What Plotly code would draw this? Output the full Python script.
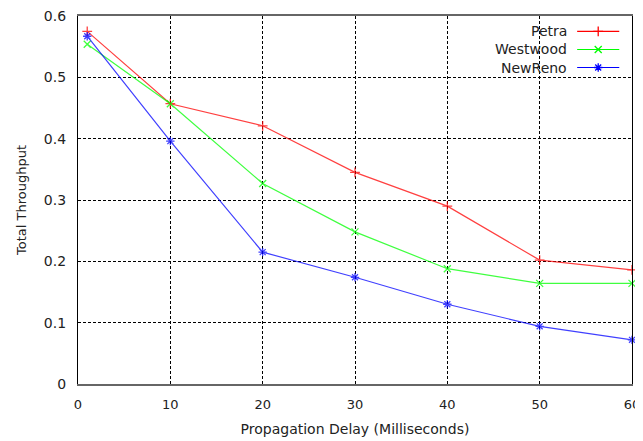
import plotly.graph_objects as go

delay = [1, 10, 20, 30, 40, 50, 60]
petra = [0.575, 0.457, 0.421, 0.345, 0.290, 0.202, 0.186]
westwood = [0.554, 0.457, 0.327, 0.248, 0.188, 0.164, 0.164]
newreno = [0.567, 0.396, 0.215, 0.174, 0.130, 0.094, 0.072]

names = ["Petra", "Westwood", "NewReno"]
colors = ["#ff0000", "#00ff00", "#0000ff"]
symbols = ["cross-thin", "x-thin", "asterisk"]
series = [petra, westwood, newreno]

fig = go.Figure()
for name, ys, c, s in zip(names, series, colors, symbols):
    fig.add_trace(go.Scatter(
        x=delay, y=ys, mode="lines+markers", name=name,
        line=dict(color=c, width=1.2), opacity=0.75,
        marker=dict(symbol=s, size=7, line=dict(color=c, width=1.3), color=c),
        showlegend=False, cliponaxis=False))

# custom legend (text left of sample, like gnuplot)
leg_y = [0.958, 0.909, 0.86]
for name, c, s, yy in zip(names, colors, symbols, leg_y):
    fig.add_shape(type="line", xref="paper", yref="paper", x0=0.901, x1=0.977, y0=yy, y1=yy,
                  line=dict(color=c, width=1.2))
    fig.add_annotation(xref="paper", yref="paper", x=0.887, y=yy, text=name, showarrow=False,
                       xanchor="right", yanchor="middle",
                       font=dict(family="DejaVu Sans", size=14, color="#222"))
fig.add_trace(go.Scatter(
    x=[0.939] * 3, y=leg_y, mode="markers", xaxis="x2", yaxis="y2",
    marker=dict(symbol=symbols, size=7, color=colors, line=dict(color=colors, width=1.3)),
    showlegend=False, hoverinfo="skip"))

grid = dict(showgrid=True, gridcolor="black", griddash="3px,2px", gridwidth=1)
fig.update_layout(
    width=643, height=441,
    margin=dict(l=70, r=19, t=8, b=65),
    paper_bgcolor="white", plot_bgcolor="white",
    font=dict(family="DejaVu Sans", size=13, color="#222"),
    xaxis=dict(range=[0, 60], tickvals=[0, 10, 20, 30, 40, 50, 60], ticks="", automargin=False,
               showline=True, linecolor="#666", linewidth=1.5, mirror=True, zeroline=False,
               tickfont=dict(size=13), ticklabelstandoff=8, ticklabeloverflow="allow",
               title=dict(text="Propagation Delay (Milliseconds)", standoff=13,
                          font=dict(size=14)), **grid),
    yaxis=dict(range=[0, 0.6], tickvals=[0, 0.1, 0.2, 0.3, 0.4, 0.5, 0.6], automargin=False,
               ticktext=["0", "0.1", "0.2", "0.3", "0.4", "0.5", "0.6"], ticks="",
               showline=True, linecolor="black", linewidth=1.2, mirror=True, zeroline=False,
               tickfont=dict(size=14), ticklabelstandoff=8, ticklabeloverflow="allow",
               title=dict(text="Total Throughput", standoff=14, font=dict(size=13)), **grid),
    xaxis2=dict(range=[0, 1], overlaying="x", visible=False, fixedrange=True),
    yaxis2=dict(range=[0, 1], overlaying="y", visible=False, fixedrange=True),
    showlegend=False,
)
fig.write_html("out.html")
